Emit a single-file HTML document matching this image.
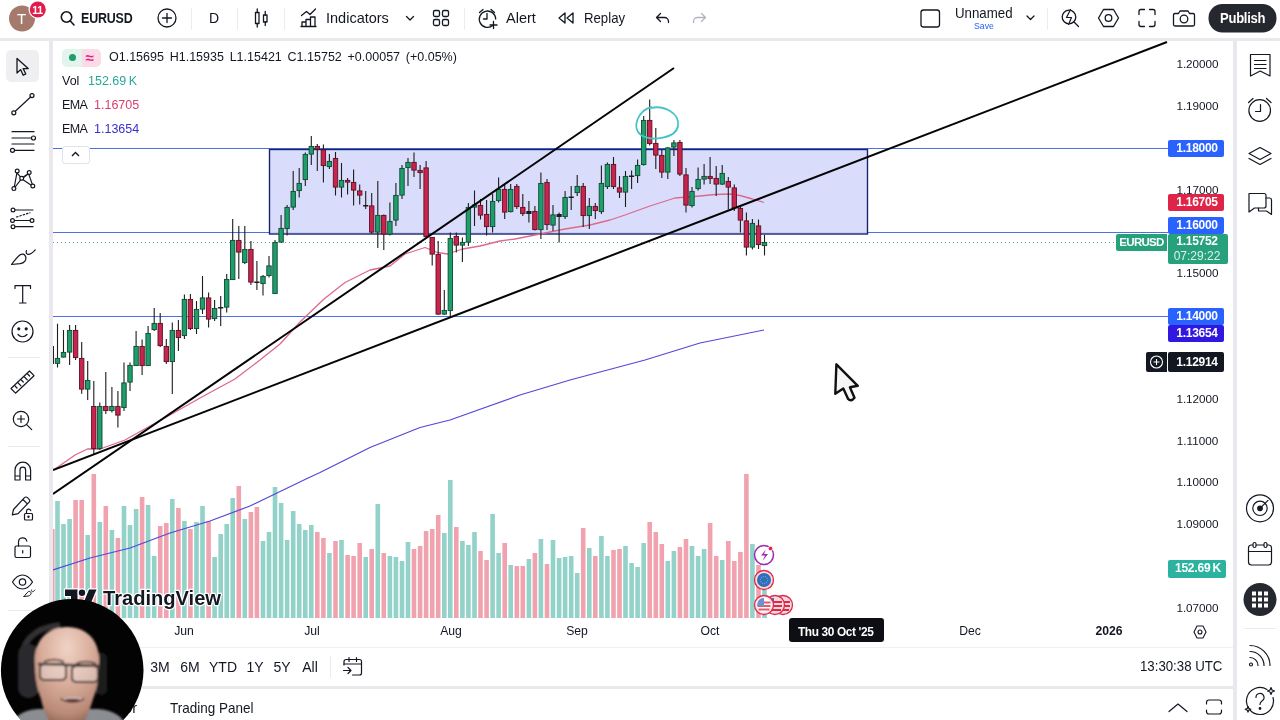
<!DOCTYPE html>
<html><head><meta charset="utf-8"><title>EURUSD chart</title>
<style>
*{box-sizing:border-box;margin:0;padding:0}
html,body{width:1280px;height:720px;overflow:hidden}
body{background:#e8e8ed;font-family:"Liberation Sans",sans-serif;color:#131722;position:relative;font-size:13px}
.abs{position:absolute}
.white{background:#fff}
#top{left:0;top:0;width:1280px;height:38px}
#left{left:0;top:41px;width:49px;height:649px}
#chartbox{left:53px;top:41px;width:1180px;height:606px;overflow:hidden}
#rangebar{left:53px;top:647px;width:1180px;height:39px;border-top:1px solid #f0f0f3}
#footer{left:0px;top:689px;width:1233px;height:31px}
#right{left:1237px;top:41px;width:43px;height:679px}
svg.chart{position:absolute;left:0;top:0}
.t{position:absolute;white-space:nowrap;line-height:1}
.ic{position:absolute}
.ic svg{display:block}
.plabel{border-radius:2px;position:absolute;left:1115px;width:56px;height:17px;color:#fff;font-size:12px;font-weight:bold;line-height:17px;text-align:center;letter-spacing:-0.3px;padding-left:2px}
.ptext{position:absolute;left:1115px;width:59px;font-size:11.7px;line-height:14px;text-align:center;color:#131722}
.sep{position:absolute;width:1px;background:#ebecf0}
.tm{font-size:12.2px;margin-left:1px;transform:translateX(-50%)}
.rb{font-size:14px}
</style></head><body>
<div id="top" class="abs white"><svg class="abs" style="left:0;top:0" width="1280" height="38" viewBox="0 0 1280 38" fill="none" stroke="#131722" stroke-width="1.3" stroke-linecap="round" stroke-linejoin="round">
<circle cx="22" cy="18.5" r="13" fill="#a57a6c" stroke="none"/>
<circle cx="37.800" cy="9.500" r="9.300" fill="#fff" stroke="none"/>
<circle cx="37.800" cy="9.500" r="8" fill="#e31b4b" stroke="none"/>
<!-- search -->
<circle cx="66.5" cy="17" r="5.2" stroke-width="1.6"/><path d="M70.3 21 L74 25" stroke-width="1.6"/>
<!-- plus circle -->
<circle cx="167" cy="18" r="9"/><path d="M162.5 18h9M167 13.500v9"/>
<!-- candles icon -->
<rect x="255.500" y="12.500" width="3.500" height="11"/><path d="M257.250 9v3.500M257.250 23.500v3.500"/>
<rect x="263.500" y="15" width="3.500" height="7"/><path d="M265.250 11.500v3.500M265.250 22v3.500"/>
<!-- indicators icon -->
<g transform="translate(3.500 0)"><path d="M298 15.500l5-4 3.500 3 5.500-5.500"/><path d="M298.500 26.500v-4.500h4v4.500M302.500 26.500v-7h4.500v7M307 26.500v-9.500h4.500v9.500M297.500 26.500h15"/></g>
<!-- chevron -->
<path d="M406.500 16.500l3.500 3.500 3.500-3.500"/>
<!-- layout -->
<rect x="433.500" y="10.500" width="6" height="6" rx="1.500"/><rect x="442.500" y="10.500" width="6" height="6" rx="1.500"/><rect x="433.500" y="19.500" width="6" height="6" rx="1.500"/><rect x="442.500" y="19.500" width="6" height="6" rx="1.500"/>
<!-- alert -->
<path d="M493 25.300a8.200 8.200 0 1 1 2.700-6.300"/><path d="M487 13.500v5.500h-3.500"/><path d="M479.500 12.500l3.500-3M491 9.500l3.500 3"/><path d="M493.500 21.500v7M490 25h7"/>
<!-- replay -->
<path d="M565 13l-6 5 6 5zM573 13l-6 5 6 5z"/>
<!-- undo / redo -->
<path d="M660.500 13.500l-4 4 4 4M656.500 17.500h8a4 4 0 0 1 4 4v1"/>
<path d="M701.500 13.500l4 4-4 4M705.500 17.500h-8a4 4 0 0 0-4 4v1" stroke="#b2b5be"/>
<!-- layout square -->
<rect x="921" y="10" width="18.500" height="17" rx="2.500"/>
<path d="M1027 16l3.500 3.500 3.500-3.500"/>
<!-- quick search -->
<circle cx="1069" cy="17" r="6.800"/><path d="M1074 22l4.500 4.500"/><path d="M1070.500 9.500l-4 8h5l-3 7" stroke-width="1.200" fill="#fff"/>
<!-- settings hexagon -->
<path d="M1103.500 9.500h10l5 8.500-5 8.500h-10l-5-8.500z"/><circle cx="1108.500" cy="18" r="3.300"/>
<!-- fullscreen -->
<path d="M1139 14.500v-3a2 2 0 0 1 2-2h3.500M1149.500 9.500h3.500a2 2 0 0 1 2 2v3M1155 21.500v3a2 2 0 0 1-2 2h-3.500M1144.500 26.500h-3.500a2 2 0 0 1-2-2v-3"/>
<!-- camera -->
<path d="M1175 13.500h3.500l1.500-2.500h8l1.500 2.500h3.500a1.500 1.500 0 0 1 1.500 1.500v9.500a1.500 1.500 0 0 1-1.500 1.500h-18a1.500 1.500 0 0 1-1.500-1.500v-9.500a1.500 1.500 0 0 1 1.500-1.500z"/><circle cx="1184" cy="19" r="3.800"/>
<rect x="1208.500" y="4" width="68" height="28.500" rx="14" fill="#26282f" stroke="none"/>
</svg>
<div class="sep" style="left:191px;top:8px;height:22px"></div>
<div class="sep" style="left:237px;top:8px;height:22px"></div>
<div class="sep" style="left:284px;top:8px;height:22px"></div>
<div class="sep" style="left:464px;top:8px;height:22px"></div>
<div class="sep" style="left:1047px;top:8px;height:22px"></div>
<div class="t" style="left:17px;top:11px;font-size:15px;color:#fff">T</div>
<div class="t" style="left:32.300px;top:4.500px;font-size:10.500px;color:#fff;font-weight:bold;letter-spacing:-0.4px">11</div>
<div class="t" style="left:81px;top:11px;font-size:14px;font-weight:bold;letter-spacing:-0.2px;transform:scaleX(.89);transform-origin:0 0">EURUSD</div>
<div class="t" style="left:209px;top:11px;font-size:14px">D</div>
<div class="t" style="left:326px;top:10.500px;font-size:14.500px">Indicators</div>
<div class="t" style="left:506px;top:10.500px;font-size:14.500px">Alert</div>
<div class="t" style="left:584px;top:10.500px;font-size:14.500px;transform:scaleX(.91);transform-origin:0 0">Replay</div>
<div class="t" style="left:955px;top:6px;font-size:14.500px;transform:scaleX(.915);transform-origin:0 0">Unnamed</div>
<div class="t" style="left:974px;top:21px;font-size:9.500px;color:#2962ff;transform:scaleX(.92);transform-origin:0 0">Save</div>
<div class="t" style="left:1220px;top:10.500px;font-size:14.500px;color:#fff;font-weight:bold;letter-spacing:-0.3px;transform:scaleX(.9);transform-origin:0 0">Publish</div>
</div>
<div id="left" class="abs white"><svg class="abs" style="left:0;top:0" width="49" height="649" viewBox="0 41 49 649" fill="none" stroke="#131722" stroke-width="1.200" stroke-linecap="round" stroke-linejoin="round">
<rect x="6" y="50" width="33" height="32" rx="5" fill="#efeff1" stroke="none"/>
<!-- cursor -->
<path d="M17 58.500v14.500l3.600-3.400 2.600 5.600 2.600-1.200-2.600-5.400h5z" stroke-width="1.300"/>
<!-- line -->
<path d="M15.300 111.300L30.600 97"/><circle cx="13.800" cy="112.800" r="2"/><circle cx="32" cy="95.600" r="2"/>
<!-- hlines -->
<path d="M12 131.700h22M12 138h19.500M12 144h22M14.500 150.300h19.500"/><circle cx="33.500" cy="138" r="2" fill="#fff"/><circle cx="12.500" cy="150.300" r="2" fill="#fff"/>
<!-- pattern -->
<path d="M14.300 187l2.600-14.200 4.600 5.400 7-4.800 3.800 11M14.800 187.500l6.800-8.800 10 6.800M22.500 178.300l6.300-4.800"/>
<circle cx="17.200" cy="171" r="1.900" fill="#fff"/><circle cx="29.200" cy="172.500" r="1.900" fill="#fff"/><circle cx="13.900" cy="188.600" r="1.900" fill="#fff"/><circle cx="32.800" cy="186" r="1.900" fill="#fff"/><circle cx="21.700" cy="178.200" r="1.900" fill="#fff"/>
<!-- fib lines -->
<path d="M15 210h18M14.500 220.500h16M15 226.700h18"/><path d="M16.500 217l13.500-4.200" stroke-dasharray="1.500 2"/>
<circle cx="13" cy="210" r="1.900" fill="#fff"/><circle cx="12.500" cy="220.500" r="1.900" fill="#fff"/><circle cx="32" cy="220.500" r="1.900" fill="#fff"/><circle cx="13" cy="226.700" r="1.900" fill="#fff"/>
<!-- brush -->
<path d="M11.500 264.500l8.500-.8c4.500-.6 6.800-4 5.600-7.200-1-2.600-3.600-3-5.400-1.800-3.400 2.600-6.200 6.400-8.700 9.800z"/><path d="M26.500 250.500c-.8 1.800-.2 3.400 1.400 3.800 2.400.2 5-1.800 7.300-4.500"/>
<!-- T -->
<path d="M15 288.500v-2.800h15.500v2.800M22.700 285.700v17.300M19.500 303h6.500"/>
<!-- smiley -->
<circle cx="22.500" cy="331.500" r="10.500"/><circle cx="18.800" cy="328.800" r="1" fill="#131722"/><circle cx="26.200" cy="328.800" r="1" fill="#131722"/><path d="M18 334.500c2.500 3 6.500 3 9 0"/>
<path d="M8 357.500h32" stroke="#ebebef" stroke-width="1"/>
<!-- ruler -->
<path d="M11 388.500l18.500-17.500 4.500 4.700-18.500 17.500z"/><path d="M15 386l2 2M18.200 383l2.800 2.800M21.300 380l2 2M24.500 377l2.800 2.800M27.600 374l2 2"/>
<!-- zoom -->
<circle cx="21" cy="419" r="7.700"/><path d="M26.700 424.700l5 5M17.500 419h7M21 415.500v7"/>
<path d="M8 446.500h32" stroke="#ebebef" stroke-width="1"/>
<!-- magnet -->
<path d="M15 480v-10a7.800 7.800 0 0 1 15.600 0v10h-5v-10a2.800 2.800 0 0 0-5.600 0v10zM15 476h5M25.600 476h5"/>
<!-- pencil lock -->
<path d="M12.300 514.800l1.200-5.300 11-11.800a2 2 0 0 1 3 0l1.600 1.600a2 2 0 0 1 0 2.800l-11 11.600zM23 499.500l4.300 4.300"/>
<rect x="24.500" y="513.500" width="8" height="6.500" rx="1" fill="#fff"/><path d="M26.500 513.500v-2.300a2.200 2.200 0 0 1 4.300-.6"/><circle cx="28.500" cy="516.800" r=".6" fill="#131722"/>
<!-- lock -->
<rect x="15" y="546" width="15.500" height="11.500" rx="1.500"/><path d="M18.500 546v-3.800a4.200 4.200 0 0 1 8.300-1"/><path d="M22.700 550.500v2.500"/>
<!-- eye -->
<path d="M12.500 582c3-4.800 6.300-7 10-7s7 2.200 10 7c-3 4.800-6.300 7-10 7s-7-2.200-10-7z"/><circle cx="22.500" cy="582" r="3.200"/>
<path d="M24 596.500l4.200-.5c2.200-.3 3.300-2 2.700-3.500-.5-1.200-1.800-1.400-2.600-.8-1.600 1.200-3 3.200-4.300 4.800zM31.500 590c-.3 1 .2 1.600 1 1.700.9 0 1.700-.8 2.300-1.700" stroke-width="1"/>
<path d="M8 610.500h32" stroke="#ebebef" stroke-width="1"/>
</svg>
</div>
<div id="chartbox" class="abs white">
<svg class="chart" width="1180" height="578" viewBox="53 41 1180 578">
<line x1="53" x2="1168" y1="148.5" y2="148.5" stroke="#4a72e6" stroke-width="1"/>
<line x1="53" x2="1168" y1="232.5" y2="232.5" stroke="#4a72e6" stroke-width="1"/>
<line x1="53" x2="1168" y1="316.5" y2="316.5" stroke="#4a72e6" stroke-width="1"/>
<rect x="269.5" y="149.5" width="598" height="84.5" fill="#d5d9fb" fill-opacity="0.9" stroke="#1a256e" stroke-width="1.4"/>
<line x1="53" x2="1168" y1="242.5" y2="242.5" stroke="#5aa893" stroke-width="1" stroke-dasharray="1 3"/>
<rect x="55.2" y="501" width="4.6" height="117" fill="#92d2c8"/>
<rect x="61.2" y="524" width="4.6" height="94" fill="#92d2c8"/>
<rect x="67.3" y="519" width="4.6" height="99" fill="#92d2c8"/>
<rect x="73.3" y="500" width="4.6" height="118" fill="#f0a3ae"/>
<rect x="79.4" y="500" width="4.6" height="118" fill="#f0a3ae"/>
<rect x="85.4" y="535" width="4.6" height="83" fill="#92d2c8"/>
<rect x="91.5" y="474" width="4.6" height="144" fill="#f0a3ae"/>
<rect x="97.5" y="522" width="4.6" height="96" fill="#92d2c8"/>
<rect x="103.5" y="506" width="4.6" height="112" fill="#f0a3ae"/>
<rect x="109.6" y="530" width="4.6" height="88" fill="#92d2c8"/>
<rect x="115.6" y="538" width="4.6" height="80" fill="#f0a3ae"/>
<rect x="121.7" y="506" width="4.6" height="112" fill="#92d2c8"/>
<rect x="127.7" y="525" width="4.6" height="93" fill="#92d2c8"/>
<rect x="133.8" y="509" width="4.6" height="109" fill="#92d2c8"/>
<rect x="139.8" y="497" width="4.6" height="121" fill="#f0a3ae"/>
<rect x="145.8" y="505" width="4.6" height="113" fill="#92d2c8"/>
<rect x="151.9" y="556" width="4.6" height="62" fill="#92d2c8"/>
<rect x="157.9" y="526" width="4.6" height="92" fill="#f0a3ae"/>
<rect x="164.0" y="523" width="4.6" height="95" fill="#f0a3ae"/>
<rect x="170.0" y="499" width="4.6" height="119" fill="#92d2c8"/>
<rect x="176.1" y="508" width="4.6" height="110" fill="#f0a3ae"/>
<rect x="182.1" y="521" width="4.6" height="97" fill="#92d2c8"/>
<rect x="188.1" y="529" width="4.6" height="89" fill="#f0a3ae"/>
<rect x="194.2" y="522" width="4.6" height="96" fill="#92d2c8"/>
<rect x="200.2" y="506" width="4.6" height="112" fill="#92d2c8"/>
<rect x="206.3" y="521" width="4.6" height="97" fill="#f0a3ae"/>
<rect x="212.3" y="557" width="4.6" height="61" fill="#92d2c8"/>
<rect x="218.4" y="534" width="4.6" height="84" fill="#92d2c8"/>
<rect x="224.4" y="524" width="4.6" height="94" fill="#92d2c8"/>
<rect x="230.4" y="498" width="4.6" height="120" fill="#92d2c8"/>
<rect x="236.5" y="486" width="4.6" height="132" fill="#f0a3ae"/>
<rect x="242.5" y="519" width="4.6" height="99" fill="#92d2c8"/>
<rect x="248.6" y="512" width="4.6" height="106" fill="#f0a3ae"/>
<rect x="254.6" y="507" width="4.6" height="111" fill="#f0a3ae"/>
<rect x="260.7" y="541" width="4.6" height="77" fill="#92d2c8"/>
<rect x="266.7" y="532" width="4.6" height="86" fill="#92d2c8"/>
<rect x="272.7" y="487" width="4.6" height="131" fill="#92d2c8"/>
<rect x="278.8" y="503" width="4.6" height="115" fill="#92d2c8"/>
<rect x="284.8" y="540" width="4.6" height="78" fill="#92d2c8"/>
<rect x="290.9" y="511" width="4.6" height="107" fill="#92d2c8"/>
<rect x="296.9" y="524" width="4.6" height="94" fill="#92d2c8"/>
<rect x="303.0" y="530" width="4.6" height="88" fill="#92d2c8"/>
<rect x="309.0" y="525" width="4.6" height="93" fill="#92d2c8"/>
<rect x="315.0" y="532" width="4.6" height="86" fill="#f0a3ae"/>
<rect x="321.1" y="538" width="4.6" height="80" fill="#f0a3ae"/>
<rect x="327.1" y="553" width="4.6" height="65" fill="#92d2c8"/>
<rect x="333.2" y="541" width="4.6" height="77" fill="#f0a3ae"/>
<rect x="339.2" y="540" width="4.6" height="78" fill="#92d2c8"/>
<rect x="345.3" y="555" width="4.6" height="63" fill="#f0a3ae"/>
<rect x="351.3" y="556" width="4.6" height="62" fill="#f0a3ae"/>
<rect x="357.4" y="543" width="4.6" height="75" fill="#f0a3ae"/>
<rect x="363.4" y="557" width="4.6" height="61" fill="#92d2c8"/>
<rect x="369.4" y="549" width="4.6" height="69" fill="#f0a3ae"/>
<rect x="375.5" y="504" width="4.6" height="114" fill="#92d2c8"/>
<rect x="381.5" y="553" width="4.6" height="65" fill="#f0a3ae"/>
<rect x="387.6" y="556" width="4.6" height="62" fill="#92d2c8"/>
<rect x="393.6" y="557" width="4.6" height="61" fill="#92d2c8"/>
<rect x="399.7" y="561" width="4.6" height="57" fill="#92d2c8"/>
<rect x="405.7" y="542" width="4.6" height="76" fill="#92d2c8"/>
<rect x="411.7" y="549" width="4.6" height="69" fill="#f0a3ae"/>
<rect x="417.8" y="546" width="4.6" height="72" fill="#f0a3ae"/>
<rect x="423.8" y="531" width="4.6" height="87" fill="#f0a3ae"/>
<rect x="429.9" y="529" width="4.6" height="89" fill="#f0a3ae"/>
<rect x="435.9" y="515" width="4.6" height="103" fill="#f0a3ae"/>
<rect x="442.0" y="533" width="4.6" height="85" fill="#92d2c8"/>
<rect x="448.0" y="480" width="4.6" height="138" fill="#92d2c8"/>
<rect x="454.0" y="527" width="4.6" height="91" fill="#f0a3ae"/>
<rect x="460.1" y="541" width="4.6" height="77" fill="#92d2c8"/>
<rect x="466.1" y="545" width="4.6" height="73" fill="#92d2c8"/>
<rect x="472.2" y="532" width="4.6" height="86" fill="#92d2c8"/>
<rect x="478.2" y="551" width="4.6" height="67" fill="#f0a3ae"/>
<rect x="484.3" y="560" width="4.6" height="58" fill="#f0a3ae"/>
<rect x="490.3" y="514" width="4.6" height="104" fill="#92d2c8"/>
<rect x="496.3" y="553" width="4.6" height="65" fill="#92d2c8"/>
<rect x="502.4" y="543" width="4.6" height="75" fill="#f0a3ae"/>
<rect x="508.4" y="565" width="4.6" height="53" fill="#92d2c8"/>
<rect x="514.5" y="566" width="4.6" height="52" fill="#f0a3ae"/>
<rect x="520.5" y="566" width="4.6" height="52" fill="#f0a3ae"/>
<rect x="526.6" y="559" width="4.6" height="59" fill="#92d2c8"/>
<rect x="532.6" y="553" width="4.6" height="65" fill="#f0a3ae"/>
<rect x="538.6" y="539" width="4.6" height="79" fill="#92d2c8"/>
<rect x="544.7" y="564" width="4.6" height="54" fill="#f0a3ae"/>
<rect x="550.7" y="540" width="4.6" height="78" fill="#92d2c8"/>
<rect x="556.8" y="558" width="4.6" height="60" fill="#92d2c8"/>
<rect x="562.8" y="557" width="4.6" height="61" fill="#92d2c8"/>
<rect x="568.9" y="556" width="4.6" height="62" fill="#92d2c8"/>
<rect x="574.9" y="573" width="4.6" height="45" fill="#92d2c8"/>
<rect x="580.9" y="528" width="4.6" height="90" fill="#f0a3ae"/>
<rect x="587.0" y="548" width="4.6" height="70" fill="#92d2c8"/>
<rect x="593.0" y="556" width="4.6" height="62" fill="#f0a3ae"/>
<rect x="599.1" y="536" width="4.6" height="82" fill="#92d2c8"/>
<rect x="605.1" y="556" width="4.6" height="62" fill="#92d2c8"/>
<rect x="611.2" y="550" width="4.6" height="68" fill="#f0a3ae"/>
<rect x="617.2" y="549" width="4.6" height="69" fill="#f0a3ae"/>
<rect x="623.2" y="546" width="4.6" height="72" fill="#92d2c8"/>
<rect x="629.3" y="563" width="4.6" height="55" fill="#92d2c8"/>
<rect x="635.3" y="567" width="4.6" height="51" fill="#92d2c8"/>
<rect x="641.4" y="543" width="4.6" height="75" fill="#92d2c8"/>
<rect x="647.4" y="522" width="4.6" height="96" fill="#f0a3ae"/>
<rect x="653.5" y="532" width="4.6" height="86" fill="#f0a3ae"/>
<rect x="659.5" y="544" width="4.6" height="74" fill="#f0a3ae"/>
<rect x="665.5" y="561" width="4.6" height="57" fill="#92d2c8"/>
<rect x="671.6" y="551" width="4.6" height="67" fill="#92d2c8"/>
<rect x="677.6" y="547" width="4.6" height="71" fill="#f0a3ae"/>
<rect x="683.7" y="539" width="4.6" height="79" fill="#f0a3ae"/>
<rect x="689.7" y="546" width="4.6" height="72" fill="#92d2c8"/>
<rect x="695.8" y="556" width="4.6" height="62" fill="#92d2c8"/>
<rect x="701.8" y="549" width="4.6" height="69" fill="#92d2c8"/>
<rect x="707.8" y="523" width="4.6" height="95" fill="#f0a3ae"/>
<rect x="713.9" y="556" width="4.6" height="62" fill="#f0a3ae"/>
<rect x="719.9" y="560" width="4.6" height="58" fill="#92d2c8"/>
<rect x="726.0" y="541" width="4.6" height="77" fill="#f0a3ae"/>
<rect x="732.0" y="561" width="4.6" height="57" fill="#f0a3ae"/>
<rect x="738.1" y="552" width="4.6" height="66" fill="#f0a3ae"/>
<rect x="744.1" y="474" width="4.6" height="144" fill="#f0a3ae"/>
<rect x="750.1" y="544" width="4.6" height="74" fill="#92d2c8"/>
<rect x="756.2" y="565" width="4.6" height="53" fill="#f0a3ae"/>
<rect x="762.2" y="590" width="4.6" height="28" fill="#92d2c8"/>
<rect x="53" y="529" width="1.6" height="89" fill="#f0a3ae"/>
<path d="M53,470 L55,469 L75,455 L87.5,449 L100,449 L125,440 L150,426 L170,415 L200,398 L235,379 L260,360 L280,344 L300,322 L324,299 L345,282.5 L370,270 L390,266 L405,254 L425,247.5 L437.5,252.5 L447.5,254 L462.5,249 L480,246 L500,241 L515,239 L540,234 L565,229 L590,225 L610,220 L625,215 L650,206 L675,198 L700,196 L715,194.5 L730,194 L740,195.5 L752.5,199 L764,202.5" fill="none" stroke="#dc6a8a" stroke-width="1.3" stroke-linejoin="round"/>
<path d="M53,570 L90,558 L130,548 L170,533 L210,521 L250,506 L306,479 L320,472.5 L370,447.5 L420,427.5 L450,420 L520,395 L570,380 L645,360 L700,343 L764,330" fill="none" stroke="#5348d6" stroke-width="1.2" stroke-linejoin="round"/>
<line x1="53.5" x2="53.5" y1="346" y2="364" stroke="#222" stroke-width="1"/>
<line x1="57.5" x2="57.5" y1="323.75" y2="367.5" stroke="#1c1c1c" stroke-width="1.1"/>
<rect x="55.3" y="358.4" width="4.4" height="4.95" fill="#1f9d6b" stroke="#0c4a33" stroke-width="0.9"/>
<line x1="63.5" x2="63.5" y1="330" y2="357.5" stroke="#1c1c1c" stroke-width="1.1"/>
<rect x="61.3" y="352.4" width="4.4" height="4.7" fill="#1f9d6b" stroke="#0c4a33" stroke-width="0.9"/>
<line x1="69.6" x2="69.6" y1="325" y2="365" stroke="#1c1c1c" stroke-width="1.1"/>
<rect x="67.4" y="330.4" width="4.4" height="21.7" fill="#1f9d6b" stroke="#0c4a33" stroke-width="0.9"/>
<line x1="75.6" x2="75.6" y1="325" y2="360" stroke="#1c1c1c" stroke-width="1.1"/>
<rect x="73.4" y="330.4" width="4.4" height="27.2" fill="#c7254e" stroke="#5e0f24" stroke-width="0.9"/>
<line x1="81.7" x2="81.7" y1="342" y2="393.75" stroke="#1c1c1c" stroke-width="1.1"/>
<rect x="79.5" y="358.4" width="4.4" height="30.7" fill="#c7254e" stroke="#5e0f24" stroke-width="0.9"/>
<line x1="87.7" x2="87.7" y1="361" y2="400" stroke="#1c1c1c" stroke-width="1.1"/>
<rect x="85.5" y="380.4" width="4.4" height="8.7" fill="#1f9d6b" stroke="#0c4a33" stroke-width="0.9"/>
<line x1="93.8" x2="93.8" y1="381" y2="455" stroke="#1c1c1c" stroke-width="1.1"/>
<rect x="91.6" y="406.4" width="4.4" height="42.2" fill="#c7254e" stroke="#5e0f24" stroke-width="0.9"/>
<line x1="99.8" x2="99.8" y1="402.5" y2="450" stroke="#1c1c1c" stroke-width="1.1"/>
<rect x="97.6" y="406.4" width="4.4" height="42.2" fill="#1f9d6b" stroke="#0c4a33" stroke-width="0.9"/>
<line x1="105.8" x2="105.8" y1="372" y2="414" stroke="#1c1c1c" stroke-width="1.1"/>
<rect x="103.6" y="406.4" width="4.4" height="4.2" fill="#c7254e" stroke="#5e0f24" stroke-width="0.9"/>
<line x1="111.9" x2="111.9" y1="387" y2="412.5" stroke="#1c1c1c" stroke-width="1.1"/>
<rect x="109.7" y="406.4" width="4.4" height="4.2" fill="#1f9d6b" stroke="#0c4a33" stroke-width="0.9"/>
<line x1="117.9" x2="117.9" y1="391" y2="427.5" stroke="#1c1c1c" stroke-width="1.1"/>
<rect x="115.7" y="406.4" width="4.4" height="8.7" fill="#c7254e" stroke="#5e0f24" stroke-width="0.9"/>
<line x1="124.0" x2="124.0" y1="362.5" y2="411" stroke="#1c1c1c" stroke-width="1.1"/>
<rect x="121.8" y="382.9" width="4.4" height="24.7" fill="#1f9d6b" stroke="#0c4a33" stroke-width="0.9"/>
<line x1="130.0" x2="130.0" y1="362.5" y2="391" stroke="#1c1c1c" stroke-width="1.1"/>
<rect x="127.8" y="365.4" width="4.4" height="16.7" fill="#1f9d6b" stroke="#0c4a33" stroke-width="0.9"/>
<line x1="136.1" x2="136.1" y1="331" y2="366" stroke="#1c1c1c" stroke-width="1.1"/>
<rect x="133.9" y="346.4" width="4.4" height="19.2" fill="#1f9d6b" stroke="#0c4a33" stroke-width="0.9"/>
<line x1="142.1" x2="142.1" y1="339.5" y2="375" stroke="#1c1c1c" stroke-width="1.1"/>
<rect x="139.9" y="346.4" width="4.4" height="19.2" fill="#c7254e" stroke="#5e0f24" stroke-width="0.9"/>
<line x1="148.1" x2="148.1" y1="326" y2="366" stroke="#1c1c1c" stroke-width="1.1"/>
<rect x="145.9" y="333.4" width="4.4" height="32.2" fill="#1f9d6b" stroke="#0c4a33" stroke-width="0.9"/>
<line x1="154.2" x2="154.2" y1="308" y2="331" stroke="#1c1c1c" stroke-width="1.1"/>
<rect x="152.0" y="323.4" width="4.4" height="6.2" fill="#1f9d6b" stroke="#0c4a33" stroke-width="0.9"/>
<line x1="160.2" x2="160.2" y1="313" y2="347" stroke="#1c1c1c" stroke-width="1.1"/>
<rect x="158.0" y="323.4" width="4.4" height="22.2" fill="#c7254e" stroke="#5e0f24" stroke-width="0.9"/>
<line x1="166.3" x2="166.3" y1="339" y2="364" stroke="#1c1c1c" stroke-width="1.1"/>
<rect x="164.1" y="346.4" width="4.4" height="15.2" fill="#c7254e" stroke="#5e0f24" stroke-width="0.9"/>
<line x1="172.3" x2="172.3" y1="322.5" y2="394" stroke="#1c1c1c" stroke-width="1.1"/>
<rect x="170.1" y="330.4" width="4.4" height="31.2" fill="#1f9d6b" stroke="#0c4a33" stroke-width="0.9"/>
<line x1="178.4" x2="178.4" y1="320" y2="351" stroke="#1c1c1c" stroke-width="1.1"/>
<rect x="176.2" y="330.4" width="4.4" height="7.2" fill="#c7254e" stroke="#5e0f24" stroke-width="0.9"/>
<line x1="184.4" x2="184.4" y1="294.5" y2="339" stroke="#1c1c1c" stroke-width="1.1"/>
<rect x="182.2" y="299.4" width="4.4" height="36.2" fill="#1f9d6b" stroke="#0c4a33" stroke-width="0.9"/>
<line x1="190.4" x2="190.4" y1="294" y2="330" stroke="#1c1c1c" stroke-width="1.1"/>
<rect x="188.2" y="299.4" width="4.4" height="29.2" fill="#c7254e" stroke="#5e0f24" stroke-width="0.9"/>
<line x1="196.5" x2="196.5" y1="301" y2="334" stroke="#1c1c1c" stroke-width="1.1"/>
<rect x="194.3" y="309.4" width="4.4" height="19.2" fill="#1f9d6b" stroke="#0c4a33" stroke-width="0.9"/>
<line x1="202.5" x2="202.5" y1="276" y2="314" stroke="#1c1c1c" stroke-width="1.1"/>
<rect x="200.3" y="297.9" width="4.4" height="11.2" fill="#1f9d6b" stroke="#0c4a33" stroke-width="0.9"/>
<line x1="208.6" x2="208.6" y1="292.5" y2="327.5" stroke="#1c1c1c" stroke-width="1.1"/>
<rect x="206.4" y="297.9" width="4.4" height="21.2" fill="#c7254e" stroke="#5e0f24" stroke-width="0.9"/>
<line x1="214.6" x2="214.6" y1="300" y2="321" stroke="#1c1c1c" stroke-width="1.1"/>
<rect x="212.4" y="308.4" width="4.4" height="10.2" fill="#1f9d6b" stroke="#0c4a33" stroke-width="0.9"/>
<line x1="220.7" x2="220.7" y1="296" y2="326" stroke="#1c1c1c" stroke-width="1.1"/>
<rect x="218.1" y="307" width="5.2" height="1.5" fill="#1c1c1c"/>
<line x1="226.7" x2="226.7" y1="274" y2="312.5" stroke="#1c1c1c" stroke-width="1.1"/>
<rect x="224.5" y="279.4" width="4.4" height="27.7" fill="#1f9d6b" stroke="#0c4a33" stroke-width="0.9"/>
<line x1="232.7" x2="232.7" y1="219" y2="280" stroke="#1c1c1c" stroke-width="1.1"/>
<rect x="230.5" y="240.4" width="4.4" height="39.2" fill="#1f9d6b" stroke="#0c4a33" stroke-width="0.9"/>
<line x1="238.8" x2="238.8" y1="226" y2="279" stroke="#1c1c1c" stroke-width="1.1"/>
<rect x="236.6" y="240.4" width="4.4" height="11.7" fill="#c7254e" stroke="#5e0f24" stroke-width="0.9"/>
<line x1="244.8" x2="244.8" y1="226" y2="264" stroke="#1c1c1c" stroke-width="1.1"/>
<rect x="242.6" y="249.4" width="4.4" height="13.2" fill="#1f9d6b" stroke="#0c4a33" stroke-width="0.9"/>
<line x1="250.9" x2="250.9" y1="241" y2="285" stroke="#1c1c1c" stroke-width="1.1"/>
<rect x="248.7" y="249.4" width="4.4" height="32.7" fill="#c7254e" stroke="#5e0f24" stroke-width="0.9"/>
<line x1="256.9" x2="256.9" y1="261" y2="290" stroke="#1c1c1c" stroke-width="1.1"/>
<rect x="254.3" y="281.5" width="5.2" height="1.5" fill="#1c1c1c"/>
<line x1="263.0" x2="263.0" y1="275" y2="295.5" stroke="#1c1c1c" stroke-width="1.1"/>
<rect x="260.8" y="276.4" width="4.4" height="7.2" fill="#1f9d6b" stroke="#0c4a33" stroke-width="0.9"/>
<line x1="269.0" x2="269.0" y1="256" y2="277.5" stroke="#1c1c1c" stroke-width="1.1"/>
<rect x="266.8" y="265.9" width="4.4" height="9.7" fill="#1f9d6b" stroke="#0c4a33" stroke-width="0.9"/>
<line x1="275.0" x2="275.0" y1="240" y2="294" stroke="#1c1c1c" stroke-width="1.1"/>
<rect x="272.8" y="242.4" width="4.4" height="51.2" fill="#1f9d6b" stroke="#0c4a33" stroke-width="0.9"/>
<line x1="281.1" x2="281.1" y1="215" y2="242.5" stroke="#1c1c1c" stroke-width="1.1"/>
<rect x="278.9" y="228.4" width="4.4" height="13.7" fill="#1f9d6b" stroke="#0c4a33" stroke-width="0.9"/>
<line x1="287.1" x2="287.1" y1="205" y2="235.5" stroke="#1c1c1c" stroke-width="1.1"/>
<rect x="284.9" y="207.4" width="4.4" height="21.2" fill="#1f9d6b" stroke="#0c4a33" stroke-width="0.9"/>
<line x1="293.2" x2="293.2" y1="171" y2="210" stroke="#1c1c1c" stroke-width="1.1"/>
<rect x="291.0" y="191.4" width="4.4" height="15.7" fill="#1f9d6b" stroke="#0c4a33" stroke-width="0.9"/>
<line x1="299.2" x2="299.2" y1="168" y2="197.5" stroke="#1c1c1c" stroke-width="1.1"/>
<rect x="297.0" y="183.4" width="4.4" height="7.2" fill="#1f9d6b" stroke="#0c4a33" stroke-width="0.9"/>
<line x1="305.3" x2="305.3" y1="152.5" y2="186" stroke="#1c1c1c" stroke-width="1.1"/>
<rect x="303.1" y="154.4" width="4.4" height="25.2" fill="#1f9d6b" stroke="#0c4a33" stroke-width="0.9"/>
<line x1="311.3" x2="311.3" y1="136" y2="165" stroke="#1c1c1c" stroke-width="1.1"/>
<rect x="309.1" y="146.4" width="4.4" height="7.7" fill="#1f9d6b" stroke="#0c4a33" stroke-width="0.9"/>
<line x1="317.3" x2="317.3" y1="144" y2="171" stroke="#1c1c1c" stroke-width="1.1"/>
<rect x="315.1" y="146.4" width="4.4" height="2.7" fill="#c7254e" stroke="#5e0f24" stroke-width="0.9"/>
<line x1="323.4" x2="323.4" y1="144.5" y2="182.5" stroke="#1c1c1c" stroke-width="1.1"/>
<rect x="321.2" y="149.9" width="4.4" height="15.7" fill="#c7254e" stroke="#5e0f24" stroke-width="0.9"/>
<line x1="329.4" x2="329.4" y1="154" y2="169" stroke="#1c1c1c" stroke-width="1.1"/>
<rect x="327.2" y="161.4" width="4.4" height="5.2" fill="#1f9d6b" stroke="#0c4a33" stroke-width="0.9"/>
<line x1="335.5" x2="335.5" y1="152" y2="195.5" stroke="#1c1c1c" stroke-width="1.1"/>
<rect x="333.3" y="158.4" width="4.4" height="28.7" fill="#c7254e" stroke="#5e0f24" stroke-width="0.9"/>
<line x1="341.5" x2="341.5" y1="163" y2="197.5" stroke="#1c1c1c" stroke-width="1.1"/>
<rect x="339.3" y="180.4" width="4.4" height="6.7" fill="#1f9d6b" stroke="#0c4a33" stroke-width="0.9"/>
<line x1="347.6" x2="347.6" y1="178" y2="194.5" stroke="#1c1c1c" stroke-width="1.1"/>
<rect x="345.4" y="180.4" width="4.4" height="1.7" fill="#c7254e" stroke="#5e0f24" stroke-width="0.9"/>
<line x1="353.6" x2="353.6" y1="169.5" y2="205.5" stroke="#1c1c1c" stroke-width="1.1"/>
<rect x="351.4" y="182.4" width="4.4" height="7.7" fill="#c7254e" stroke="#5e0f24" stroke-width="0.9"/>
<line x1="359.7" x2="359.7" y1="184.5" y2="204.5" stroke="#1c1c1c" stroke-width="1.1"/>
<rect x="357.5" y="190.9" width="4.4" height="4.2" fill="#c7254e" stroke="#5e0f24" stroke-width="0.9"/>
<line x1="365.7" x2="365.7" y1="191" y2="209" stroke="#1c1c1c" stroke-width="1.1"/>
<rect x="363.1" y="205" width="5.2" height="1.5" fill="#1c1c1c"/>
<line x1="371.7" x2="371.7" y1="193" y2="234" stroke="#1c1c1c" stroke-width="1.1"/>
<rect x="369.5" y="205.9" width="4.4" height="26.2" fill="#c7254e" stroke="#5e0f24" stroke-width="0.9"/>
<line x1="377.8" x2="377.8" y1="181" y2="248" stroke="#1c1c1c" stroke-width="1.1"/>
<rect x="375.6" y="215.4" width="4.4" height="16.7" fill="#1f9d6b" stroke="#0c4a33" stroke-width="0.9"/>
<line x1="383.8" x2="383.8" y1="214.5" y2="250" stroke="#1c1c1c" stroke-width="1.1"/>
<rect x="381.6" y="215.4" width="4.4" height="18.7" fill="#c7254e" stroke="#5e0f24" stroke-width="0.9"/>
<line x1="389.9" x2="389.9" y1="202.5" y2="235.5" stroke="#1c1c1c" stroke-width="1.1"/>
<rect x="387.7" y="221.4" width="4.4" height="12.7" fill="#1f9d6b" stroke="#0c4a33" stroke-width="0.9"/>
<line x1="395.9" x2="395.9" y1="183" y2="226" stroke="#1c1c1c" stroke-width="1.1"/>
<rect x="393.7" y="195.4" width="4.4" height="24.7" fill="#1f9d6b" stroke="#0c4a33" stroke-width="0.9"/>
<line x1="402.0" x2="402.0" y1="165" y2="199" stroke="#1c1c1c" stroke-width="1.1"/>
<rect x="399.8" y="168.4" width="4.4" height="26.7" fill="#1f9d6b" stroke="#0c4a33" stroke-width="0.9"/>
<line x1="408.0" x2="408.0" y1="158" y2="186" stroke="#1c1c1c" stroke-width="1.1"/>
<rect x="405.8" y="162.4" width="4.4" height="5.2" fill="#1f9d6b" stroke="#0c4a33" stroke-width="0.9"/>
<line x1="414.0" x2="414.0" y1="152.5" y2="177" stroke="#1c1c1c" stroke-width="1.1"/>
<rect x="411.8" y="162.4" width="4.4" height="7.7" fill="#c7254e" stroke="#5e0f24" stroke-width="0.9"/>
<line x1="420.1" x2="420.1" y1="165" y2="189" stroke="#1c1c1c" stroke-width="1.1"/>
<rect x="417.9" y="170.4" width="4.4" height="2.2" fill="#c7254e" stroke="#5e0f24" stroke-width="0.9"/>
<line x1="426.1" x2="426.1" y1="161" y2="237.5" stroke="#1c1c1c" stroke-width="1.1"/>
<rect x="423.9" y="167.9" width="4.4" height="68.7" fill="#c7254e" stroke="#5e0f24" stroke-width="0.9"/>
<line x1="432.2" x2="432.2" y1="237" y2="265.5" stroke="#1c1c1c" stroke-width="1.1"/>
<rect x="430.0" y="237.4" width="4.4" height="16.7" fill="#c7254e" stroke="#5e0f24" stroke-width="0.9"/>
<line x1="438.2" x2="438.2" y1="241" y2="315" stroke="#1c1c1c" stroke-width="1.1"/>
<rect x="436.0" y="254.4" width="4.4" height="59.7" fill="#c7254e" stroke="#5e0f24" stroke-width="0.9"/>
<line x1="444.3" x2="444.3" y1="290" y2="315" stroke="#1c1c1c" stroke-width="1.1"/>
<rect x="442.1" y="310.4" width="4.4" height="3.7" fill="#1f9d6b" stroke="#0c4a33" stroke-width="0.9"/>
<line x1="450.3" x2="450.3" y1="232.5" y2="318" stroke="#1c1c1c" stroke-width="1.1"/>
<rect x="448.1" y="238.4" width="4.4" height="72.2" fill="#1f9d6b" stroke="#0c4a33" stroke-width="0.9"/>
<line x1="456.3" x2="456.3" y1="232.5" y2="252.5" stroke="#1c1c1c" stroke-width="1.1"/>
<rect x="454.1" y="236.4" width="4.4" height="8.7" fill="#c7254e" stroke="#5e0f24" stroke-width="0.9"/>
<line x1="462.4" x2="462.4" y1="237.5" y2="262" stroke="#1c1c1c" stroke-width="1.1"/>
<rect x="460.2" y="242.4" width="4.4" height="2.7" fill="#1f9d6b" stroke="#0c4a33" stroke-width="0.9"/>
<line x1="468.4" x2="468.4" y1="203" y2="246" stroke="#1c1c1c" stroke-width="1.1"/>
<rect x="466.2" y="207.4" width="4.4" height="34.7" fill="#1f9d6b" stroke="#0c4a33" stroke-width="0.9"/>
<line x1="474.5" x2="474.5" y1="190.5" y2="226" stroke="#1c1c1c" stroke-width="1.1"/>
<rect x="472.3" y="204.9" width="4.4" height="2.2" fill="#1f9d6b" stroke="#0c4a33" stroke-width="0.9"/>
<line x1="480.5" x2="480.5" y1="199" y2="219.5" stroke="#1c1c1c" stroke-width="1.1"/>
<rect x="478.3" y="205.4" width="4.4" height="9.7" fill="#c7254e" stroke="#5e0f24" stroke-width="0.9"/>
<line x1="486.6" x2="486.6" y1="200" y2="235.5" stroke="#1c1c1c" stroke-width="1.1"/>
<rect x="484.4" y="214.4" width="4.4" height="12.2" fill="#c7254e" stroke="#5e0f24" stroke-width="0.9"/>
<line x1="492.6" x2="492.6" y1="194" y2="232.5" stroke="#1c1c1c" stroke-width="1.1"/>
<rect x="490.4" y="201.4" width="4.4" height="25.2" fill="#1f9d6b" stroke="#0c4a33" stroke-width="0.9"/>
<line x1="498.6" x2="498.6" y1="177.5" y2="202.5" stroke="#1c1c1c" stroke-width="1.1"/>
<rect x="496.4" y="189.4" width="4.4" height="11.2" fill="#1f9d6b" stroke="#0c4a33" stroke-width="0.9"/>
<line x1="504.7" x2="504.7" y1="184" y2="219" stroke="#1c1c1c" stroke-width="1.1"/>
<rect x="502.5" y="189.4" width="4.4" height="22.7" fill="#c7254e" stroke="#5e0f24" stroke-width="0.9"/>
<line x1="510.7" x2="510.7" y1="184" y2="212.5" stroke="#1c1c1c" stroke-width="1.1"/>
<rect x="508.5" y="189.4" width="4.4" height="22.2" fill="#1f9d6b" stroke="#0c4a33" stroke-width="0.9"/>
<line x1="516.8" x2="516.8" y1="184" y2="209" stroke="#1c1c1c" stroke-width="1.1"/>
<rect x="514.6" y="186.4" width="4.4" height="20.2" fill="#c7254e" stroke="#5e0f24" stroke-width="0.9"/>
<line x1="522.8" x2="522.8" y1="194" y2="216" stroke="#1c1c1c" stroke-width="1.1"/>
<rect x="520.6" y="207.4" width="4.4" height="6.2" fill="#c7254e" stroke="#5e0f24" stroke-width="0.9"/>
<line x1="528.9" x2="528.9" y1="201" y2="222.5" stroke="#1c1c1c" stroke-width="1.1"/>
<rect x="526.3" y="211" width="5.2" height="3" fill="#1c1c1c"/>
<line x1="534.9" x2="534.9" y1="206" y2="230.5" stroke="#1c1c1c" stroke-width="1.1"/>
<rect x="532.7" y="211.4" width="4.4" height="18.2" fill="#c7254e" stroke="#5e0f24" stroke-width="0.9"/>
<line x1="540.9" x2="540.9" y1="172.5" y2="239" stroke="#1c1c1c" stroke-width="1.1"/>
<rect x="538.7" y="183.4" width="4.4" height="46.2" fill="#1f9d6b" stroke="#0c4a33" stroke-width="0.9"/>
<line x1="547.0" x2="547.0" y1="179" y2="230" stroke="#1c1c1c" stroke-width="1.1"/>
<rect x="544.8" y="182.4" width="4.4" height="42.2" fill="#c7254e" stroke="#5e0f24" stroke-width="0.9"/>
<line x1="553.0" x2="553.0" y1="205" y2="231" stroke="#1c1c1c" stroke-width="1.1"/>
<rect x="550.8" y="214.9" width="4.4" height="10.2" fill="#1f9d6b" stroke="#0c4a33" stroke-width="0.9"/>
<line x1="559.1" x2="559.1" y1="212.5" y2="242.5" stroke="#1c1c1c" stroke-width="1.1"/>
<rect x="556.5" y="214" width="5.2" height="3" fill="#1c1c1c"/>
<line x1="565.1" x2="565.1" y1="191" y2="219" stroke="#1c1c1c" stroke-width="1.1"/>
<rect x="562.9" y="197.4" width="4.4" height="19.2" fill="#1f9d6b" stroke="#0c4a33" stroke-width="0.9"/>
<line x1="571.2" x2="571.2" y1="186" y2="210" stroke="#1c1c1c" stroke-width="1.1"/>
<rect x="568.6" y="196.5" width="5.2" height="1.5" fill="#1c1c1c"/>
<line x1="577.2" x2="577.2" y1="175" y2="196" stroke="#1c1c1c" stroke-width="1.1"/>
<rect x="575.0" y="186.4" width="4.4" height="6.2" fill="#1f9d6b" stroke="#0c4a33" stroke-width="0.9"/>
<line x1="583.2" x2="583.2" y1="183" y2="227" stroke="#1c1c1c" stroke-width="1.1"/>
<rect x="581.0" y="186.4" width="4.4" height="29.2" fill="#c7254e" stroke="#5e0f24" stroke-width="0.9"/>
<line x1="589.3" x2="589.3" y1="198" y2="229" stroke="#1c1c1c" stroke-width="1.1"/>
<rect x="587.1" y="206.4" width="4.4" height="9.2" fill="#1f9d6b" stroke="#0c4a33" stroke-width="0.9"/>
<line x1="595.3" x2="595.3" y1="203" y2="219" stroke="#1c1c1c" stroke-width="1.1"/>
<rect x="593.1" y="206.4" width="4.4" height="4.2" fill="#c7254e" stroke="#5e0f24" stroke-width="0.9"/>
<line x1="601.4" x2="601.4" y1="165.5" y2="214" stroke="#1c1c1c" stroke-width="1.1"/>
<rect x="599.2" y="183.4" width="4.4" height="28.2" fill="#1f9d6b" stroke="#0c4a33" stroke-width="0.9"/>
<line x1="607.4" x2="607.4" y1="162.5" y2="189" stroke="#1c1c1c" stroke-width="1.1"/>
<rect x="605.2" y="164.4" width="4.4" height="22.2" fill="#1f9d6b" stroke="#0c4a33" stroke-width="0.9"/>
<line x1="613.5" x2="613.5" y1="157" y2="189" stroke="#1c1c1c" stroke-width="1.1"/>
<rect x="611.3" y="164.4" width="4.4" height="22.2" fill="#c7254e" stroke="#5e0f24" stroke-width="0.9"/>
<line x1="619.5" x2="619.5" y1="176" y2="198" stroke="#1c1c1c" stroke-width="1.1"/>
<rect x="617.3" y="187.9" width="4.4" height="4.2" fill="#c7254e" stroke="#5e0f24" stroke-width="0.9"/>
<line x1="625.5" x2="625.5" y1="171" y2="207" stroke="#1c1c1c" stroke-width="1.1"/>
<rect x="623.3" y="176.4" width="4.4" height="15.7" fill="#1f9d6b" stroke="#0c4a33" stroke-width="0.9"/>
<line x1="631.6" x2="631.6" y1="170.5" y2="189" stroke="#1c1c1c" stroke-width="1.1"/>
<rect x="629.0" y="175.5" width="5.2" height="1.5" fill="#1c1c1c"/>
<line x1="637.6" x2="637.6" y1="159.5" y2="183" stroke="#1c1c1c" stroke-width="1.1"/>
<rect x="635.4" y="165.4" width="4.4" height="10.2" fill="#1f9d6b" stroke="#0c4a33" stroke-width="0.9"/>
<line x1="643.7" x2="643.7" y1="116" y2="165.5" stroke="#1c1c1c" stroke-width="1.1"/>
<rect x="641.5" y="120.4" width="4.4" height="44.2" fill="#1f9d6b" stroke="#0c4a33" stroke-width="0.9"/>
<line x1="649.7" x2="649.7" y1="99.5" y2="145.5" stroke="#1c1c1c" stroke-width="1.1"/>
<rect x="647.5" y="120.4" width="4.4" height="23.2" fill="#c7254e" stroke="#5e0f24" stroke-width="0.9"/>
<line x1="655.8" x2="655.8" y1="128" y2="169" stroke="#1c1c1c" stroke-width="1.1"/>
<rect x="653.6" y="143.4" width="4.4" height="11.7" fill="#c7254e" stroke="#5e0f24" stroke-width="0.9"/>
<line x1="661.8" x2="661.8" y1="150" y2="178" stroke="#1c1c1c" stroke-width="1.1"/>
<rect x="659.6" y="155.4" width="4.4" height="16.7" fill="#c7254e" stroke="#5e0f24" stroke-width="0.9"/>
<line x1="667.8" x2="667.8" y1="147" y2="179" stroke="#1c1c1c" stroke-width="1.1"/>
<rect x="665.6" y="147.9" width="4.4" height="24.2" fill="#1f9d6b" stroke="#0c4a33" stroke-width="0.9"/>
<line x1="673.9" x2="673.9" y1="140" y2="156" stroke="#1c1c1c" stroke-width="1.1"/>
<rect x="671.7" y="142.9" width="4.4" height="4.2" fill="#1f9d6b" stroke="#0c4a33" stroke-width="0.9"/>
<line x1="679.9" x2="679.9" y1="140" y2="176" stroke="#1c1c1c" stroke-width="1.1"/>
<rect x="677.7" y="142.4" width="4.4" height="31.7" fill="#c7254e" stroke="#5e0f24" stroke-width="0.9"/>
<line x1="686.0" x2="686.0" y1="168" y2="212.5" stroke="#1c1c1c" stroke-width="1.1"/>
<rect x="683.8" y="174.9" width="4.4" height="30.2" fill="#c7254e" stroke="#5e0f24" stroke-width="0.9"/>
<line x1="692.0" x2="692.0" y1="187" y2="207.5" stroke="#1c1c1c" stroke-width="1.1"/>
<rect x="689.8" y="191.4" width="4.4" height="14.2" fill="#1f9d6b" stroke="#0c4a33" stroke-width="0.9"/>
<line x1="698.1" x2="698.1" y1="167.5" y2="190.5" stroke="#1c1c1c" stroke-width="1.1"/>
<rect x="695.9" y="179.4" width="4.4" height="9.2" fill="#1f9d6b" stroke="#0c4a33" stroke-width="0.9"/>
<line x1="704.1" x2="704.1" y1="164" y2="184.5" stroke="#1c1c1c" stroke-width="1.1"/>
<rect x="701.9" y="176.4" width="4.4" height="2.7" fill="#1f9d6b" stroke="#0c4a33" stroke-width="0.9"/>
<line x1="710.1" x2="710.1" y1="157" y2="184" stroke="#1c1c1c" stroke-width="1.1"/>
<rect x="707.9" y="176.4" width="4.4" height="2.2" fill="#c7254e" stroke="#5e0f24" stroke-width="0.9"/>
<line x1="716.2" x2="716.2" y1="166" y2="196" stroke="#1c1c1c" stroke-width="1.1"/>
<rect x="714.0" y="178.4" width="4.4" height="5.7" fill="#c7254e" stroke="#5e0f24" stroke-width="0.9"/>
<line x1="722.2" x2="722.2" y1="165" y2="185" stroke="#1c1c1c" stroke-width="1.1"/>
<rect x="720.0" y="173.4" width="4.4" height="10.7" fill="#1f9d6b" stroke="#0c4a33" stroke-width="0.9"/>
<line x1="728.3" x2="728.3" y1="177" y2="209.5" stroke="#1c1c1c" stroke-width="1.1"/>
<rect x="726.1" y="181.4" width="4.4" height="5.7" fill="#c7254e" stroke="#5e0f24" stroke-width="0.9"/>
<line x1="734.3" x2="734.3" y1="184.5" y2="211" stroke="#1c1c1c" stroke-width="1.1"/>
<rect x="732.1" y="187.9" width="4.4" height="19.7" fill="#c7254e" stroke="#5e0f24" stroke-width="0.9"/>
<line x1="740.4" x2="740.4" y1="206" y2="232.5" stroke="#1c1c1c" stroke-width="1.1"/>
<rect x="738.2" y="208.4" width="4.4" height="11.7" fill="#c7254e" stroke="#5e0f24" stroke-width="0.9"/>
<line x1="746.4" x2="746.4" y1="212.5" y2="255.5" stroke="#1c1c1c" stroke-width="1.1"/>
<rect x="744.2" y="220.9" width="4.4" height="26.2" fill="#c7254e" stroke="#5e0f24" stroke-width="0.9"/>
<line x1="752.4" x2="752.4" y1="219" y2="249.5" stroke="#1c1c1c" stroke-width="1.1"/>
<rect x="750.2" y="223.4" width="4.4" height="23.7" fill="#1f9d6b" stroke="#0c4a33" stroke-width="0.9"/>
<line x1="758.5" x2="758.5" y1="219.5" y2="249" stroke="#1c1c1c" stroke-width="1.1"/>
<rect x="756.3" y="225.9" width="4.4" height="18.7" fill="#c7254e" stroke="#5e0f24" stroke-width="0.9"/>
<line x1="764.5" x2="764.5" y1="235" y2="255.5" stroke="#1c1c1c" stroke-width="1.1"/>
<rect x="762.3" y="242.4" width="4.4" height="3.2" fill="#1f9d6b" stroke="#0c4a33" stroke-width="0.9"/>
<line x1="53" y1="494" x2="674" y2="68" stroke="#050505" stroke-width="2"/>
<line x1="53" y1="470" x2="1167" y2="42" stroke="#050505" stroke-width="2"/>
<path d="M652 107 C638 110 631 128 641 135 C652 142 676 138 678 126 C680 113 664 105 651 108" fill="none" stroke="#45c4c8" stroke-width="1.8"/>
</svg>
<div class="abs" style="left:-53px;top:-41px;width:1280px;height:720px">
<!-- legend -->
<div class="abs" style="left:62px;top:49px;width:20px;height:17.500px;background:#e3f3ee;border-radius:5px 0 0 5px"></div>
<div class="abs" style="left:82px;top:49px;width:19px;height:17.500px;background:#fbdbe6;border-radius:0 5px 5px 0"></div>
<div class="abs" style="left:68.500px;top:54px;width:7px;height:7px;border-radius:50%;background:#1f9d6b"></div>
<div class="t" style="left:85.500px;top:49.500px;font-size:15px;color:#e3238a;font-weight:bold">≈</div>
<div class="t" id="ohlc" style="left:109px;top:51px;font-size:12.500px;word-spacing:2.300px">O1.15695 H1.15935 L1.15421 C1.15752 +0.00057 (+0.05%)</div>
<div class="t" style="left:62px;top:75px;font-size:12.500px">Vol</div>
<div class="t" style="left:88px;top:75px;font-size:12.500px;color:#2aa897">152.69&#8201;K</div>
<div class="t" style="left:62px;top:99px;font-size:12.500px;letter-spacing:-0.6px">EMA</div>
<div class="t" style="left:94px;top:99px;font-size:12.500px;color:#dd3d6e">1.16705</div>
<div class="t" style="left:62px;top:123px;font-size:12.500px;letter-spacing:-0.6px">EMA</div>
<div class="t" style="left:94px;top:123px;font-size:12.500px;color:#3a2fd0">1.13654</div>
<div class="abs" style="left:61.500px;top:145.500px;width:28px;height:18px;background:#fff;border:1px solid #e0e3eb;border-radius:3px"></div>
<svg class="abs" style="left:61px;top:145px" width="28" height="18" viewBox="0 0 28 18" fill="none" stroke="#131722" stroke-width="1.400"><path d="M11 11l3.500-3.500 3.500 3.500"/></svg>
<!-- price axis -->
<div class="ptext" style="left:1168px;top:57px">1.20000</div>
<div class="ptext" style="left:1168px;top:99px">1.19000</div>
<div class="ptext" style="left:1168px;top:183px">1.17000</div>
<div class="ptext" style="left:1168px;top:266px">1.15000</div>
<div class="ptext" style="left:1168px;top:392px">1.12000</div>
<div class="ptext" style="left:1168px;top:434px">1.11000</div>
<div class="ptext" style="left:1168px;top:475px">1.10000</div>
<div class="ptext" style="left:1168px;top:517px">1.09000</div>
<div class="ptext" style="left:1168px;top:601px">1.07000</div>
<div class="plabel" style="left:1168px;top:140px;background:#2962ff">1.18000</div>
<div class="plabel" style="left:1168px;top:194px;background:#de2447">1.16705</div>
<div class="plabel" style="left:1168px;top:217px;background:#2962ff">1.16000</div>
<div class="plabel" style="left:1116px;top:234px;width:51px;height:16.500px;background:#26a17b;border-radius:2px 0 0 2px;line-height:16.500px;letter-spacing:-0.7px;padding-left:0;font-size:11.500px">EURUSD</div>
<div class="plabel" style="left:1168px;top:234px;width:60px;height:29.500px;background:#26a17b;line-height:15px;padding-right:4px">1.15752<br><span style="font-weight:normal;opacity:.85;letter-spacing:0">07:29:22</span></div>
<div class="plabel" style="left:1168px;top:308px;background:#2962ff">1.14000</div>
<div class="plabel" style="left:1168px;top:325px;background:#3118e0">1.13654</div>
<div class="plabel" style="left:1146px;top:352px;width:21px;height:20px;background:#131722;border-radius:2px 0 0 2px"></div>
<svg class="abs" style="left:1146px;top:352px" width="21" height="20" viewBox="0 0 21 20" fill="none" stroke="#fff" stroke-width="1.100"><circle cx="10.500" cy="10" r="6"/><path d="M7.500 10h6M10.500 7v6"/></svg>
<div class="plabel" style="left:1168px;top:352px;height:20px;line-height:20px;background:#131722">1.12914</div>
<div class="plabel" style="left:1168px;top:560px;width:58px;height:17.500px;background:#2bb3a0;letter-spacing:-0.2px;font-size:12px">152.69&#8201;K</div>
<!-- time axis -->
<div class="t tm" style="left:183px;top:625px">Jun</div>
<div class="t tm" style="left:311px;top:625px">Jul</div>
<div class="t tm" style="left:450px;top:625px">Aug</div>
<div class="t tm" style="left:576px;top:625px">Sep</div>
<div class="t tm" style="left:709px;top:625px">Oct</div>
<div class="t tm" style="left:969px;top:625px">Dec</div>
<div class="t tm" style="left:1108px;top:625px;font-weight:bold">2026</div>
<div class="abs" style="left:789px;top:618px;width:95px;height:23.500px;background:#0e0f14;border-radius:3px"></div>
<div class="t" style="left:798px;top:626px;font-size:12.500px;color:#fff;font-weight:bold;letter-spacing:-0.4px;transform:scaleX(.95);transform-origin:0 0">Thu 30 Oct '25</div>
<svg class="abs" style="left:1190px;top:622px" width="20" height="20" viewBox="0 0 20 20" fill="none" stroke="#131722" stroke-width="1.100"><path d="M7 4h6l3 6-3 6h-6l-3-6z"/><circle cx="10" cy="10" r="2"/></svg>
<!-- event icons -->
<svg class="abs" style="left:740px;top:540px" width="70" height="80" viewBox="740 540 70 80">
<g><circle cx="783" cy="605" r="9.500" fill="#f7d9de" stroke="#e0294a" stroke-width="1.300"/><path d="M776 602h14M776 606h14M777 610h12" stroke="#e0294a" stroke-width="2"/></g>
<g><circle cx="775" cy="605" r="9.500" fill="#f7d9de" stroke="#e0294a" stroke-width="1.300"/><path d="M768 602h14M768 606h14M769 610h12" stroke="#e0294a" stroke-width="2"/><rect x="768" y="598" width="6" height="6" fill="#4a6fb5"/></g>
<g><circle cx="764" cy="605" r="9.500" fill="#fbe9ec" stroke="#e0294a" stroke-width="1.300"/><circle cx="764" cy="605" r="7" fill="#fff"/><path d="M758.500 602.500h12M757.500 606h13M758.500 609.500h11" stroke="#e45a6e" stroke-width="1.800"/><path d="M757.500 603a7 7 0 0 1 6.500-5v5z" fill="#6f8fd0"/><path d="M757.500 603h6.500v3h-7z" fill="#6f8fd0"/></g>
<circle cx="764" cy="580" r="9.500" fill="#f7d9de" stroke="#e0294a" stroke-width="1.300"/><circle cx="764" cy="580" r="7" fill="#2f6fb5"/><circle cx="764" cy="580" r="3.600" fill="none" stroke="#6fa3e0" stroke-width="1.200" stroke-dasharray="1 1.200"/>
<circle cx="764" cy="555" r="9.500" fill="#fff" stroke="#9c27b0" stroke-width="1.500"/><path d="M766 549.500l-5 6h4l-2.500 5.500 5.500-7h-4z" fill="#9c27b0"/><circle cx="770.500" cy="548.500" r="2.300" fill="#e0294a" stroke="#fff" stroke-width=".8"/>
</svg>
<!-- logo -->
<svg class="abs" style="left:60px;top:584px" width="170" height="30" viewBox="60 584 170 30">
<g fill="#131722" stroke="#fff" stroke-width="2.500" paint-order="stroke" stroke-linejoin="round">
<path d="M65 589.500h12.500v17h-6.500v-10.500h-6z"/><circle cx="82" cy="592.700" r="3.200"/><path d="M89 589.500h7.500l-7 17h-7.500z"/>
<text x="103" y="605" font-family="'Liberation Sans',sans-serif" font-weight="bold" font-size="21" textLength="118" lengthAdjust="spacingAndGlyphs">TradingView</text>
</g></svg>
<!-- mouse cursor -->
<svg class="abs" style="left:826px;top:356px" width="40" height="52" viewBox="826 356 40 52"><path d="M836.400 364.300 L835.300 393.800 L843.300 388.600 L847.900 398.600 Q851 402.200 854.500 397.800 L849.900 387.300 L857.800 385.800 Z" fill="#f6f6f6" stroke="#111" stroke-width="2.400" stroke-linejoin="round"/></svg>
</div>

</div>
<div id="rangebar" class="abs white"><div class="t rb" style="left:107px;top:11.500px;transform:translateX(-50%)">3M</div>
<div class="t rb" style="left:137px;top:11.500px;transform:translateX(-50%)">6M</div>
<div class="t rb" style="left:170px;top:11.500px;transform:translateX(-50%)">YTD</div>
<div class="t rb" style="left:202px;top:11.500px;transform:translateX(-50%)">1Y</div>
<div class="t rb" style="left:229px;top:11.500px;transform:translateX(-50%)">5Y</div>
<div class="t rb" style="left:257px;top:11.500px;transform:translateX(-50%)">All</div>
<div class="sep" style="left:277px;top:8px;height:22px"></div>
<svg class="abs" style="left:288px;top:7px" width="24" height="24" viewBox="0 0 24 24" fill="none" stroke="#131722" stroke-width="1.200" stroke-linecap="round" stroke-linejoin="round"><path d="M3 10v-3.500a2 2 0 0 1 2-2h13.500a2 2 0 0 1 2 2v11.500a2 2 0 0 1-2 2h-7"/><path d="M3 9h17.500M8 2.500v4M15.500 2.500v4"/><path d="M2.500 15.500h7.500M7 12.500l3 3-3 3"/></svg>
<div class="t" style="left:1087px;top:11px;font-size:14px;transform:scaleX(.945);transform-origin:0 0">13:30:38 UTC</div>
</div>
<div id="footer" class="abs white"><div class="t" style="left:170px;top:11.500px;font-size:14.500px;transform:scaleX(.93);transform-origin:0 0">Trading Panel</div>
<div class="t" style="left:58px;width:79px;text-align:right;top:11.500px;font-size:14.500px">Pine Editor</div>
<svg class="abs" style="left:1160px;top:5px" width="70" height="24" viewBox="1160 694 70 24" fill="none" stroke="#131722" stroke-width="1.200" stroke-linecap="round" stroke-linejoin="round"><path d="M1169 711.500l9-7.500 9 7.500"/><path d="M1206.500 704v-1.500a2.500 2.500 0 0 1 2.500-2.500h10a2.500 2.500 0 0 1 2.500 2.500v1.500M1206.500 710v1.500a2.500 2.500 0 0 0 2.500 2.500h10a2.500 2.500 0 0 0 2.500-2.500v-1.500"/></svg>
</div>
<div id="right" class="abs white"><svg class="abs" style="left:0;top:0" width="43" height="679" viewBox="1237 41 43 679" fill="none" stroke="#131722" stroke-width="1.200" stroke-linecap="round" stroke-linejoin="round">
<!-- watchlist -->
<path d="M1250.500 54.500h19.500v21.500l-9.750-5-9.750 5z"/><path d="M1254.500 60.500h11.500M1254.500 64.500h11.500M1254.500 68.500h11.500"/>
<!-- alarm -->
<circle cx="1259.700" cy="110.500" r="10.800"/><path d="M1260.500 104.500v7h-5"/><path d="M1248.500 102.500l4.500-4M1266.500 98.500l4.500 4"/>
<!-- layers -->
<path d="M1260 147.500l11 6-11 6-11-6z"/><path d="M1249 158.500l11 6 11-6"/>
<!-- chat -->
<path d="M1249 193.500h15a2 2 0 0 1 2 2v10.500a2 2 0 0 1-2 2h-9.500l-5.500 4v-4v-14.500a0 0 0 0 1 0 0z"/><path d="M1266 198h3.500a2 2 0 0 1 2 2v14.500l-5-3.500h-8v-3"/>
<!-- radar -->
<circle cx="1260" cy="508.300" r="13.500"/><circle cx="1260" cy="508.300" r="7.200"/><circle cx="1260" cy="508.300" r="2.300" fill="#131722"/><path d="M1260 508.300l8-8"/>
<!-- calendar -->
<rect x="1248.500" y="545" width="23" height="20" rx="3"/><path d="M1248.500 551.500h23"/><rect x="1253" y="542.500" width="3" height="5" rx="1.500" fill="#fff"/><rect x="1264" y="542.500" width="3" height="5" rx="1.500" fill="#fff"/>
<!-- apps -->
<circle cx="1260" cy="599.500" r="16.500" fill="#26282f" stroke="none"/>
<g fill="#fff" stroke="none"><rect x="1252" y="591.500" width="4" height="4"/><rect x="1258" y="591.500" width="4" height="4"/><rect x="1264" y="591.500" width="4" height="4"/><rect x="1252" y="597.500" width="4" height="4"/><rect x="1258" y="597.500" width="4" height="4"/><rect x="1264" y="597.500" width="4" height="4"/><rect x="1252" y="603.500" width="4" height="4"/><rect x="1258" y="603.500" width="4" height="4"/><rect x="1264" y="603.500" width="4" height="4"/></g>
<path d="M1244 628.500h32" stroke="#ebebef" stroke-width="1"/>
<!-- signal -->
<circle cx="1251" cy="664.500" r="1.500"/><path d="M1250 657.500a8 8 0 0 1 8 8M1250 651.500a14 14 0 0 1 14 14M1250 645.500a20 20 0 0 1 20 20"/>
<!-- help -->
<path d="M1267 689.500a13.500 13.500 0 1 0 6 8"/><path d="M1256 697.500a4 4 0 1 1 6 3.400c-1.500 1-2 1.800-2 3.600"/><circle cx="1260" cy="708.500" r=".8" fill="#131722"/>
<path d="M1271 687.500l1 2.500 2.500 1-2.500 1-1 2.500-1-2.500-2.500-1 2.500-1z"/><path d="M1248 706.500l.8 2 2 .8-2 .8-.8 2-.8-2-2-.8 2-.8z" fill="#fff"/>
</svg>
</div>
<svg class="abs" style="left:0;top:590px" width="150" height="130" viewBox="0 590 150 130">
<defs><clipPath id="cc"><circle cx="72.200" cy="670.300" r="71.300"/></clipPath>
<radialGradient id="sk" cx="0.5" cy="0.22" r="0.85"><stop offset="0" stop-color="#f0d3c6"/><stop offset="0.45" stop-color="#d9ad9b"/><stop offset="0.8" stop-color="#bb8b79"/><stop offset="1" stop-color="#86604f"/></radialGradient>
<filter id="bl"><feGaussianBlur stdDeviation="0.8"/></filter></defs>
<circle cx="72.200" cy="670.300" r="71.300" fill="#030303"/>
<g clip-path="url(#cc)" filter="url(#bl)">
<path d="M14 722c2-8 12-12 24-13h60c12 1 22 5 26 13z" fill="#8a8d92"/>
<path d="M24 660c-4-16 8-32 36-35" fill="none" stroke="#333336" stroke-width="6"/>
<rect x="18" y="644" width="21" height="54" rx="10" fill="#2c2c2f"/>
<rect x="96" y="653" width="11" height="42" rx="5" fill="#1b1b1d"/>
<path d="M35 665c-2-24 12-38 32-38s34 14 32 38c0 12-2 24-6 34-3 10-8 24-10 24h-32c-4-4-8-14-10-24-4-10-6-22-6-34z" fill="url(#sk)"/>
<path d="M38 664l62 2" stroke="#3a3436" stroke-width="2.500"/>
<rect x="40" y="664" width="26" height="16" rx="4" fill="#f2eeee" fill-opacity=".35" stroke="#3a3433" stroke-width="2"/>
<rect x="72" y="666" width="26" height="16" rx="4" fill="#f2eeee" fill-opacity=".35" stroke="#3a3433" stroke-width="2"/>
<path d="M44 662c6-3 14-3 20 0M76 664c6-3 14-3 20 0" stroke="#5a4a44" stroke-width="2" fill="none"/>
<path d="M60 699c7-3 17-3 25 0c-6 5-19 5-25 0z" fill="#5b3431"/><path d="M63 699c6-1.500 13-1.500 19 0" stroke="#e9dcd6" stroke-width="1.500" fill="none"/>
</g></svg>

</body></html>
